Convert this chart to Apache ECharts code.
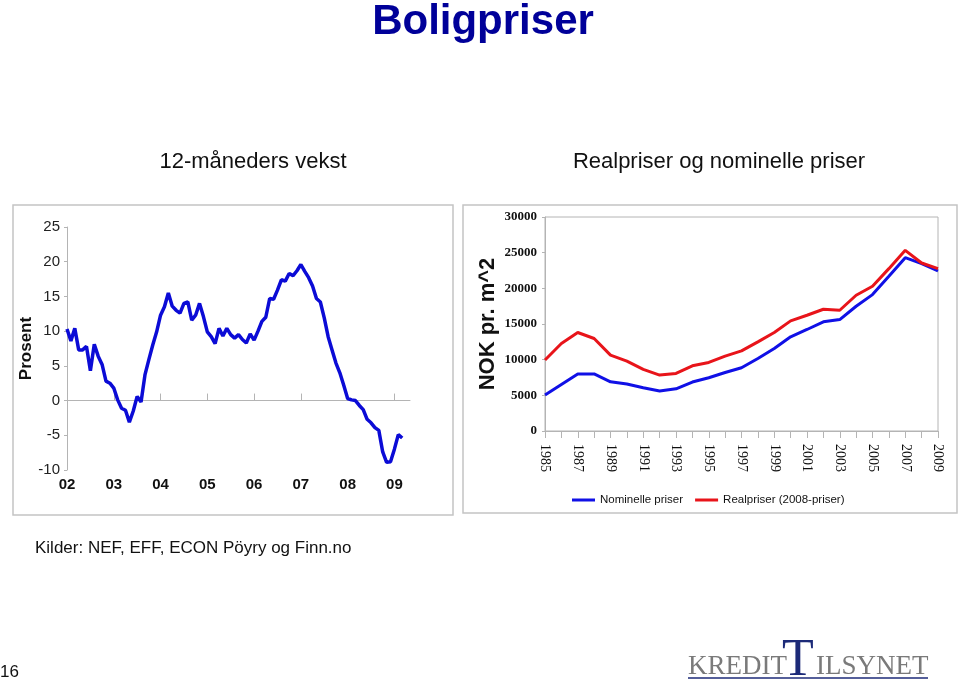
<!DOCTYPE html>
<html><head><meta charset="utf-8">
<script src="https://cdn.jsdelivr.net/npm/echarts@6/dist/echarts.min.js"></script>
<style>html,body{margin:0;padding:0;background:#fff}#c{width:960px;height:682px}</style>
</head><body><div id="c"></div>
<script>
// ---- data ----
const yearLabels = ['02','03','04','05','06','07','08','09'];
const growth = [10.3,8.6,10.4,7.3,7.3,7.8,4.3,8.1,6.4,5.2,2.8,2.5,
  1.8,0.1,-1.1,-1.4,-3.1,-1.5,0.6,-0.2,3.7,5.9,8.0,9.9,
  12.3,13.5,15.5,13.6,13.0,12.6,14.0,14.2,11.6,12.3,14.0,12.1,
  9.9,9.2,8.2,10.4,9.3,10.4,9.5,9.0,9.5,8.8,8.3,9.6,
  8.7,10.0,11.4,12.0,14.7,14.6,15.9,17.4,17.2,18.3,18.0,18.7,
  19.6,18.6,17.7,16.5,14.7,14.2,11.9,9.2,7.3,5.4,4.0,2.2,
  0.3,0.1,0.0,-0.7,-1.3,-2.7,-3.2,-3.9,-4.3,-7.4,-8.9,-8.8,
  -7.0,-4.9,-5.4];
const priceYears = ['1985','1986','1987','1988','1989','1990','1991','1992','1993','1994','1995','1996','1997','1998','1999','2000','2001','2002','2003','2004','2005','2006','2007','2008','2009'];
const nominal = [5050,6530,8000,8000,6900,6580,6060,5600,5920,6860,7460,8200,8860,10170,11570,13200,14230,15300,15620,17490,19120,21690,24300,23460,22430];
const real = [9950,12270,13810,12970,10630,9800,8630,7840,8070,9140,9610,10500,11240,12500,13810,15440,16230,17070,16930,19030,20290,22760,25330,23550,22760];
const seriesNames = ['Nominelle priser','Realpriser (2008-priser)'];

// month categories for the growth chart (Jan 2002 .. May 2009)
const months = [];
yearLabels.forEach(y => { for (let m = 1; m <= 12; m++) months.push('20' + y + '-' + String(m).padStart(2, '0')); });
const monthCats = months.slice(0, 89);

const chart = echarts.init(document.getElementById('c'), null, {renderer: 'canvas'});
const axisGray = '#b4b4b4';
const sans = 'Liberation Sans, Arial, Helvetica, sans-serif';
const serif = 'Liberation Serif, Times New Roman, serif';

chart.setOption({
  backgroundColor: '#fff',
  animation: false,
  grid: [
    {left: 67, top: 227, width: 343, height: 243},
    {left: 545, top: 217, width: 393, height: 214, show: true, borderColor: axisGray, borderWidth: 1}
  ],
  legend: {
    data: seriesNames, left: 567, top: 489, itemWidth: 23, itemHeight: 3, itemGap: 12,
    icon: 'rect', textStyle: {fontFamily: sans, fontSize: 11.5, color: '#111'}
  },
  xAxis: [
    {type: 'category', gridIndex: 0, data: monthCats, boundaryGap: false,
      axisLine: {onZero: true, lineStyle: {color: axisGray, width: 1}},
      axisTick: {inside: true, length: 7, interval: 11, lineStyle: {color: axisGray}},
      axisLabel: {show: false}, splitLine: {show: false}},
    {type: 'category', gridIndex: 0, data: monthCats, boundaryGap: false, position: 'bottom',
      axisLine: {show: false, onZero: false}, axisTick: {show: false},
      axisLabel: {interval: 11, margin: 7, formatter: v => v.slice(2, 4),
        fontFamily: sans, fontSize: 15, fontWeight: 'bold', color: '#111'}},
    {type: 'category', gridIndex: 1, data: priceYears, boundaryGap: false,
      axisLine: {lineStyle: {color: axisGray}},
      axisTick: {length: 7, interval: 0, lineStyle: {color: axisGray}},
      axisLabel: {interval: 1, rotate: -90, margin: 13, fontFamily: serif, fontSize: 14, color: '#111'}}
  ],
  yAxis: [
    {type: 'value', gridIndex: 0, min: -10, max: 25, interval: 5,
      name: 'Prosent', nameLocation: 'middle', nameGap: 24,
      nameTextStyle: {fontFamily: sans, fontSize: 17, fontWeight: 'bold', color: '#111'},
      axisLine: {show: true, lineStyle: {color: axisGray}},
      axisTick: {show: true, length: 3, lineStyle: {color: axisGray}},
      axisLabel: {margin: 7, fontFamily: sans, fontSize: 15, color: '#222'},
      splitLine: {show: false}},
    {type: 'value', gridIndex: 1, min: 0, max: 30000, interval: 5000,
      name: 'NOK pr. m^2', nameLocation: 'middle', nameGap: 46,
      nameTextStyle: {fontFamily: sans, fontSize: 22, fontWeight: 'bold', color: '#111'},
      axisLine: {show: true, lineStyle: {color: axisGray}},
      axisTick: {show: true, length: 3, lineStyle: {color: axisGray}},
      axisLabel: {margin: 8, formatter: v => String(v), fontFamily: serif, fontSize: 13, fontWeight: 'bold', color: '#111'},
      splitLine: {show: false}}
  ],
  series: [
    {type: 'line', name: '12-måneders vekst', xAxisIndex: 0, yAxisIndex: 0, data: growth,
      showSymbol: false, lineStyle: {color: '#0b0bd6', width: 3.5}, itemStyle: {color: '#0b0bd6'}},
    {type: 'line', name: seriesNames[0], xAxisIndex: 2, yAxisIndex: 1, data: nominal,
      showSymbol: false, lineStyle: {color: '#1010e6', width: 3}, itemStyle: {color: '#1010e6'}},
    {type: 'line', name: seriesNames[1], xAxisIndex: 2, yAxisIndex: 1, data: real,
      showSymbol: false, lineStyle: {color: '#e8141a', width: 3}, itemStyle: {color: '#e8141a'}}
  ],
  graphic: [
    {type: 'rect', shape: {x: 13, y: 205, width: 440, height: 310}, silent: true,
      style: {fill: 'none', stroke: '#c4c4c4', lineWidth: 1.5}},
    {type: 'rect', shape: {x: 463, y: 205, width: 494, height: 308}, silent: true,
      style: {fill: 'none', stroke: '#c4c4c4', lineWidth: 1.5}},
    {type: 'text', x: 483, y: 22, style: {text: 'Boligpriser', align: 'center', verticalAlign: 'middle',
      font: 'bold 42px ' + sans, fill: '#000099'}},
    {type: 'text', x: 253, y: 162, style: {text: '12-måneders vekst', align: 'center', verticalAlign: 'middle',
      font: '22px ' + sans, fill: '#111'}},
    {type: 'text', x: 719, y: 162, style: {text: 'Realpriser og nominelle priser', align: 'center', verticalAlign: 'middle',
      font: '22px ' + sans, fill: '#111'}},
    {type: 'text', x: 35, y: 548, style: {text: 'Kilder: NEF, EFF, ECON Pöyry og Finn.no', align: 'left', verticalAlign: 'middle',
      font: '17px ' + sans, fill: '#111'}},
    {type: 'text', x: 0, y: 672, style: {text: '16', align: 'left', verticalAlign: 'middle',
      font: '17px ' + sans, fill: '#111'}},
    {type: 'text', x: 688, y: 680, style: {text: 'KREDIT', align: 'left', verticalAlign: 'bottom',
      font: '27px ' + serif, fill: '#7a7a7a'}},
    {type: 'text', x: 782, y: 687, style: {text: 'T', align: 'left', verticalAlign: 'bottom',
      font: '52px ' + serif, fill: '#1c2a78'}},
    {type: 'text', x: 816, y: 680, style: {text: 'ILSYNET', align: 'left', verticalAlign: 'bottom',
      font: '27px ' + serif, fill: '#7a7a7a'}},
    {type: 'line', shape: {x1: 688, y1: 678, x2: 928, y2: 678}, silent: true,
      style: {stroke: '#1c2a78', lineWidth: 1.5}}
  ]
});
</script></body></html>
